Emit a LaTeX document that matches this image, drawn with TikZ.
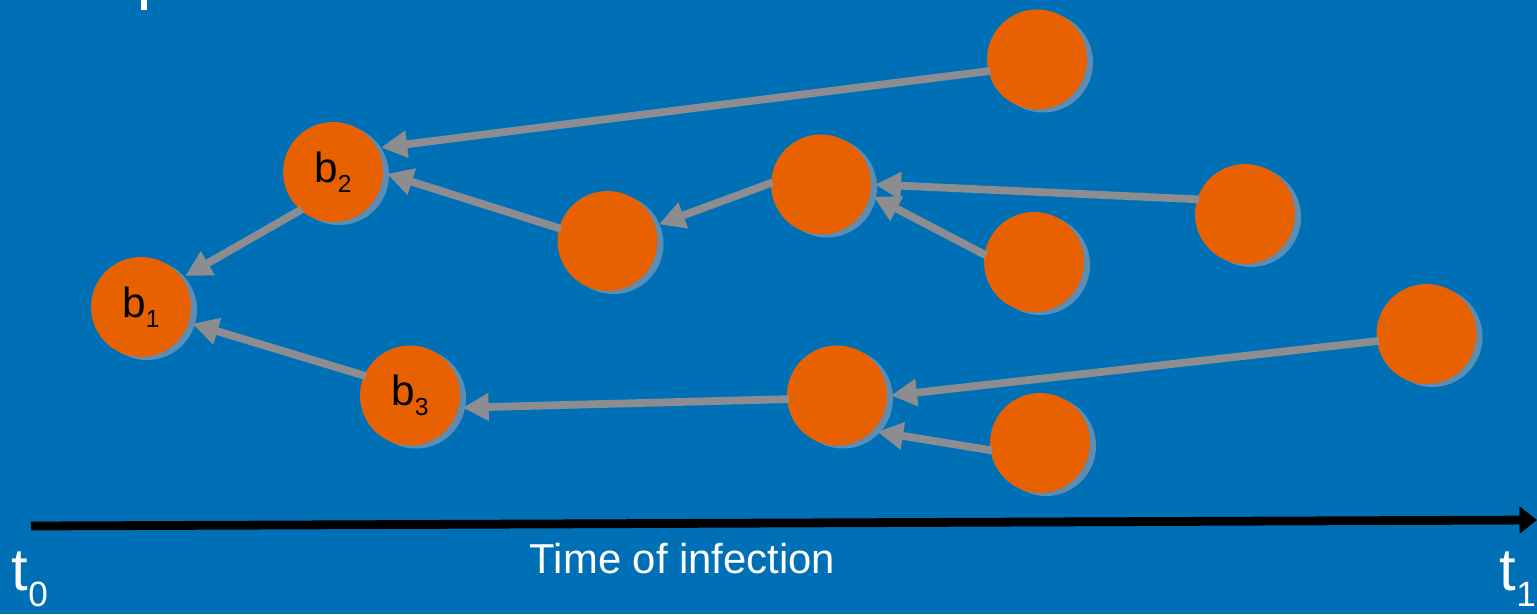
\documentclass[tikz,border=0pt]{standalone}
\usepackage{fontspec}
\setmainfont{Liberation Sans}
\usetikzlibrary{arrows.meta,shadows}
\newcommand{\hostlbl}[1]{b\raisebox{-2.8pt}{\fontsize{7}{8}\selectfont #1}}
\newcommand{\timelbl}[1]{t\raisebox{-4.8pt}{\fontsize{10}{12}\selectfont #1}}

\begin{document}
\begin{tikzpicture}
\definecolor{bg}{RGB}{0,112,182}
\definecolor{org}{RGB}{232,97,0}
\definecolor{shd}{RGB}{91,141,181}
\definecolor{gry}{RGB}{140,140,145}
\tikzset{
  host/.style={circle, fill=org, minimum size=1cm, inner sep=0pt, outer sep=0.04cm,
    drop shadow={fill=shd, opacity=1, shadow xshift=0.06cm, shadow yshift=-0.03cm},
    font=\fontsize{12}{14}\selectfont},
  infect/.style={gry, line width=2.2pt, shorten <=-0.06cm,
    -{Triangle[length=7.4pt,width=7.4pt]}},
  axlbl/.style={white, inner sep=0pt, anchor=base west, font=\fontsize{17}{20}\selectfont}
}
%% --- frame ---
\useasboundingbox (0,0) rectangle (15.37,6.14);
\fill[bg] (0,0) rectangle (15.37,6.14);
\fill[white] (1.41,6.04) rectangle (1.47,6.14);
%% --- hosts (placed at the picture's centres) ---
\node[host] (b1) at (1.41,3.07) {\hostlbl{1}};
\node[host] (b2) at (3.33,4.42) {\hostlbl{2}};
\node[host] (b3) at (4.10,2.185) {\hostlbl{3}};
\node[host] (n1) at (6.075,3.73) {};
\node[host] (n2) at (8.21,4.295) {};
\node[host] (n3) at (10.37,5.545) {};
\node[host] (n4) at (10.34,3.52) {};
\node[host] (n5) at (12.45,4.00) {};
\node[host] (n6) at (8.37,2.185) {};
\node[host] (n7) at (10.40,1.71) {};
\node[host] (n8) at (14.265,2.80) {};
%% --- who infected whom ---
\draw[infect] (n3.193) -- (b2.27);
\draw[infect] (n1.165) -- (b2.-2);
\draw[infect] (b2.228) -- (b1.35);
\draw[infect] (b3.157) -- (b1.-18);
\draw[infect] (n2.180) -- (n1.18);
\draw[infect] (n5.164) -- (n2.0);
\draw[infect] (n4.170) -- (n2.-13);
\draw[infect] (n6.184) -- (b3.-13);
\draw[infect] (n8.188) -- (n6.0);
\draw[infect] (n7.187) -- (n6.-42);
%% --- time axis ---
\coordinate (ax0) at (0.31,0.88);
\coordinate (ax1) at (15.37,0.94);
\draw[line width=2.5pt, -{Triangle[length=5pt,width=7.5pt]}] (ax0) -- (ax1);
\node[white, inner sep=0pt, anchor=base, font=\fontsize{11.9}{14}\selectfont] (axname) at (6.825,0.41) {Time of infection};
\node[axlbl] (t0) at (0.11,0.24) {\timelbl{0}};
\node[axlbl] (t1) at (14.99,0.24) {\timelbl{1}};
\end{tikzpicture}
\end{document}
